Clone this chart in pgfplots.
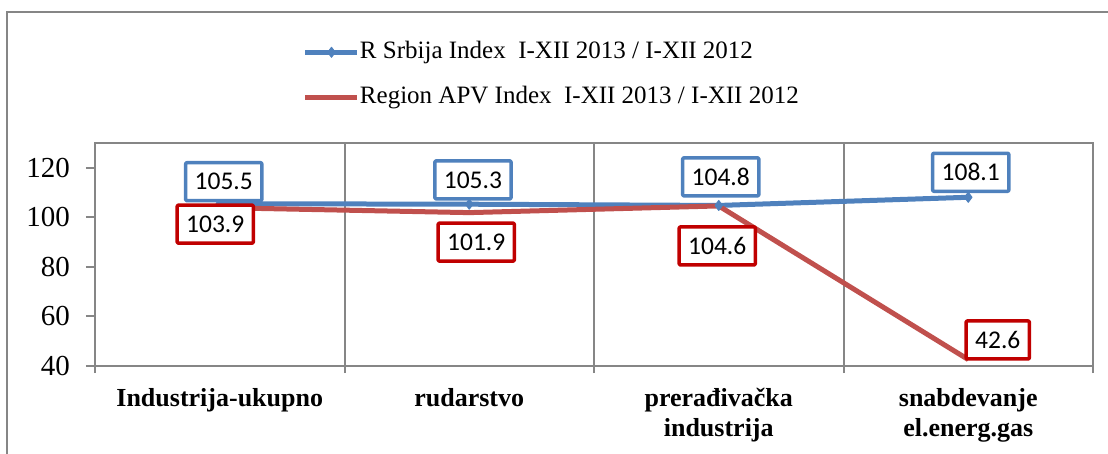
\documentclass[border=0pt]{standalone}
\usepackage{pgfplots}
\pgfplotsset{compat=1.18}
\usepackage{pgfplotstable}
\usepackage{fontspec}
\setmainfont{Liberation Serif}
\newfontfamily\carlito{Carlito}
\definecolor{sblue}{HTML}{4F81BD}
\definecolor{sred}{HTML}{C0504D}
\definecolor{lred}{HTML}{C00000}
\definecolor{agray}{HTML}{868686}

\pgfplotstableread{
x srb sdx sdy
0 105.5 4 22
1 105.3 3.7 24.3
2 104.8 2 28.6
3 108.1 2.5 25
}\srbtab
\pgfplotstableread{
x apv adx ady
0 103.9 -4.5 -16.5
1 101.9 7 -29.5
2 104.6 -1.5 -40
3 42.6 29.5 19.6
}\apvtab

\begin{document}
\begin{tikzpicture}
\useasboundingbox (0pt,0pt) rectangle (1108pt,-454pt);
\draw[agray, line width=2pt] (7pt,-460pt) -- (7pt,-12pt) -- (1115pt,-12pt);
\begin{axis}[
  at={(95pt,-366pt)}, anchor=south west,
  scale only axis, width=998pt, height=223pt,
  xmin=-0.5, xmax=3.5, ymin=40, ymax=130,
  clip=false,
  axis line style={agray, line width=2pt},
  xtick={0,1,2,3},
  xticklabels={Industrija-ukupno, rudarstvo, prerađivačka\\industrija, snabdevanje\\el.energ.gas},
  minor xtick={-0.5,0.5,1.5,2.5,3.5},
  xminorgrids,
  minor x grid style={agray, line width=2pt},
  major x tick style={draw=none},
  minor x tick style={agray, line width=2pt},
  ytick={40,60,80,100,120},
  yticklabels={40,60,80,100,120},
  y tick style={agray, line width=2pt},
  tick align=outside, xtick pos=bottom, ytick pos=left,
  major tick length=9pt, minor tick length=7pt,
  xticklabel style={font=\bfseries\fontsize{26}{30}\selectfont, align=center, inner sep=0pt, yshift=-13pt},
  yticklabel style={font=\fontsize{29}{29}\selectfont, inner sep=0pt, xshift=-16pt},
  legend image code/.code={\draw[#1, mark repeat=2, mark phase=2] plot coordinates {(0pt,0pt) (26pt,0pt) (52pt,0pt)};},
  legend style={at={(0.2084,1.4605)}, anchor=north west, draw=none, fill=none,
    inner sep=0pt, outer sep=0pt, font=\fontsize{25}{25}\selectfont,
    row sep=21pt, column sep=0pt,
    nodes={inner sep=0pt, text height=18pt, text depth=6pt}},
  legend cell align=left,
]
\addplot[sblue, line width=5pt, line join=round, mark=diamond*, mark size=5pt,
  mark options={solid, line width=1pt},
  point meta=explicit symbolic, nodes near coords,
  visualization depends on={\thisrow{sdx}\as\ldx},
  visualization depends on={\thisrow{sdy}\as\ldy},
  every node near coord/.append style={anchor=center, xshift=\ldx pt, yshift=\ldy pt,
    draw=sblue, line width=3.5pt, fill=white, text=black, inner xsep=9pt, inner ysep=0pt,
    minimum height=38pt, rounded corners=1pt, font=\carlito\fontsize{25.5}{25.5}\selectfont}]
  table[x=x, y=srb, meta=srb]{\srbtab};
\addplot[sred, line width=5pt, line join=round, mark=none,
  point meta=explicit symbolic, nodes near coords,
  visualization depends on={\thisrow{adx}\as\ldx},
  visualization depends on={\thisrow{ady}\as\ldy},
  every node near coord/.append style={anchor=center, xshift=\ldx pt, yshift=\ldy pt,
    draw=lred, line width=3.5pt, fill=white, text=black, inner xsep=9pt, inner ysep=0pt,
    minimum height=38pt, rounded corners=1pt, font=\carlito\fontsize{25.5}{25.5}\selectfont}]
  table[x=x, y=apv, meta=apv]{\apvtab};
\legend{R Srbija Index\ \ I-XII 2013 / I-XII 2012, Region APV Index\ \ I-XII 2013 / I-XII 2012}
\end{axis}
\end{tikzpicture}
\end{document}
